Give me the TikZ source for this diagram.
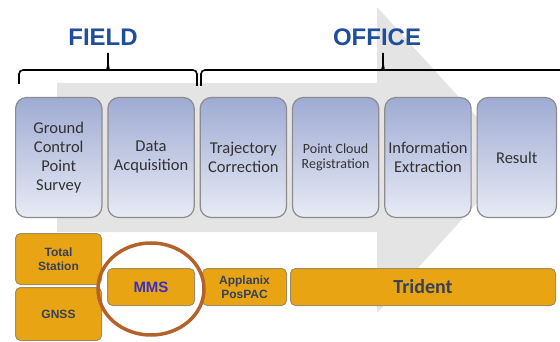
\documentclass[tikz,border=0pt]{standalone}
\usepackage{fontspec}
\setmainfont{Carlito}
\newfontfamily\headfont{Liberation Sans}
\usetikzlibrary{positioning}
\definecolor{StepTop}{HTML}{9FABD3}
\definecolor{StepBottom}{HTML}{E8EBF5}
\definecolor{StepEdge}{HTML}{8C8C8C}
\definecolor{ToolFill}{HTML}{E8A413}
\definecolor{ToolEdge}{HTML}{A08E62}
\definecolor{ToolText}{HTML}{36415A}
\definecolor{MmsBlue}{HTML}{3A2FC4}
\definecolor{PhaseBlue}{HTML}{1F4E9B}
\definecolor{FlowGray}{HTML}{E4E4E4}
\definecolor{RingBrown}{HTML}{B5622A}

\tikzset{
  stepbox/.style={draw=StepEdge,line width=1.2pt,rounded corners=11pt,
    top color=StepTop,bottom color=StepBottom,minimum width=86.3pt,
    minimum height=120pt,inner sep=1pt,align=center,text=black!80,
    font=\fontsize{16.5}{19}\selectfont},
  toolbox/.style={draw=ToolEdge,line width=1pt,rounded corners=5pt,
    fill=ToolFill,inner sep=1pt,align=center,text=ToolText,
    font=\headfont\bfseries\fontsize{12}{14}\selectfont},
  phase/.style={text=PhaseBlue,font=\headfont\bfseries\fontsize{24}{28}\selectfont},
  bracket/.style={line width=1.6pt,rounded corners=4pt},
  ring/.style={draw=RingBrown,line width=3.5pt}
}

\begin{document}
\begin{tikzpicture}[x=1pt,y=-1pt,node distance=4.8pt]
\useasboundingbox (0,0) rectangle (560,342);

% big flow arrow behind the steps
\fill[FlowGray] (57,83) -- (377,83) -- (377,7) -- (516,160) -- (377,313)
  -- (377,232) -- (57,232) -- cycle;

% process steps
\node[stepbox] (gcp) at (58.75,157.5) {Ground\\Control\\Point\\Survey};
\node[stepbox,right=of gcp] (acq) {Data\\Acquisition};
\node[stepbox,right=of acq] (traj) {Trajectory\\Correction};
\node[stepbox,right=of traj,font=\fontsize{14}{15}\selectfont] (reg) {Point Cloud\\Registration};
\node[stepbox,right=of reg] (info) {Information\\Extraction};
\node[stepbox,right=of info,minimum width=79.3pt] (res) {Result};

% tools
\node[toolbox,minimum width=86pt,minimum height=51pt] (ts) at (58.5,259) {Total\\Station};
\node[toolbox,minimum width=86pt,minimum height=53pt] (gnss) at (58.5,314) {GNSS};
\node[toolbox,minimum width=87pt,minimum height=37pt,text=MmsBlue,
  font=\headfont\bfseries\fontsize{15}{17}\selectfont] (mms) at (151,287) {MMS};
\node[toolbox,minimum width=84pt,minimum height=37pt] (pospac) at (244.5,287) {Applanix\\PosPAC};
\node[toolbox,minimum width=265pt,minimum height=37pt,
  font=\bfseries\fontsize{20}{22}\selectfont] (trident) at (423,287) {Trident};

% phases
\node[phase] (field) at (103,37) {FIELD};
\node[phase] (office) at (377,37) {OFFICE};
\draw[bracket] (19,84) -- (19,70) -- (103,70) to[out=0,in=-90] (108,62) -- (108,53);
\draw[bracket] (108,62) to[out=-90,in=180] (113,70) -- (197,70) -- (197,86);
\draw[bracket] (201,86) -- (201,70) -- (378,70) to[out=0,in=-90] (383,62) -- (383,53);
\draw[bracket] (383,62) to[out=-90,in=180] (388,70) -- (560,70);

\draw[ring] ([yshift=-2pt]mms.center) ellipse [x radius=53,y radius=46];
\end{tikzpicture}
\end{document}
